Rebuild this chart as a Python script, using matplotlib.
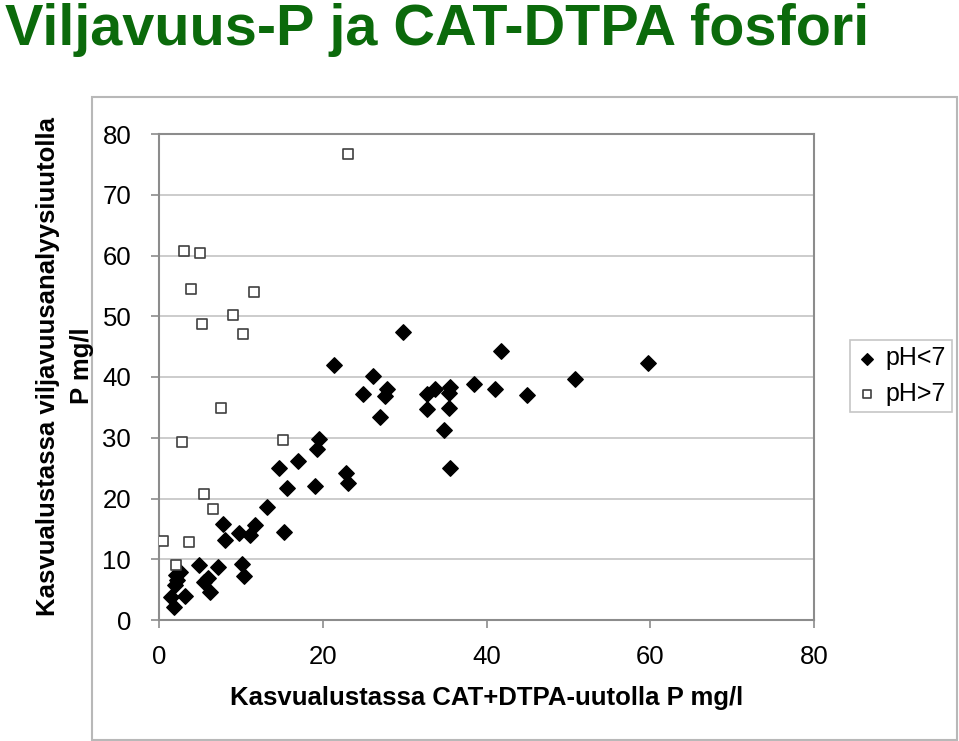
import matplotlib.pyplot as plt
from matplotlib.patches import Rectangle

# pH<7 (diamonds)
acid_x = [1.5, 1.8, 2.0, 2.1, 2.2, 2.6, 3.2, 4.9, 5.5, 6.0, 6.2, 7.2, 7.8, 8.1,
          9.8, 10.1, 10.4, 11.1, 11.7, 13.2, 14.7, 15.3, 15.6, 17.0, 19.1, 19.3,
          19.5, 21.4, 22.8, 23.1, 24.9, 26.1, 27.0, 27.6, 27.8, 29.8, 32.7, 32.7,
          33.7, 34.8, 35.4, 35.4, 35.6, 35.6, 38.5, 41.0, 41.8, 44.9, 50.8, 59.7]
acid_y = [3.8, 2.1, 5.8, 7.4, 6.6, 7.9, 4.0, 9.0, 6.3, 6.9, 4.6, 8.7, 15.8, 13.2,
          14.3, 9.2, 7.2, 14.0, 15.6, 18.6, 25.0, 14.5, 21.8, 26.2, 22.0, 28.1,
          29.8, 42.0, 24.2, 22.6, 37.2, 40.2, 33.4, 36.9, 38.0, 47.4, 37.2, 34.7,
          38.0, 31.3, 37.3, 34.9, 38.4, 25.0, 38.8, 38.0, 44.3, 37.0, 39.7, 42.3]

# pH>7 (squares)
alk_x = [0.5, 2.1, 2.8, 3.05, 3.7, 3.9, 5.0, 5.25, 5.5, 6.6, 7.6, 9.0, 10.3,
         11.6, 15.1, 23.1]
alk_y = [13.0, 9.05, 29.3, 60.7, 12.8, 54.5, 60.4, 48.7, 20.7, 18.3, 34.9,
         50.2, 47.1, 54.0, 29.6, 76.7]

plt.rcParams['font.family'] = ['Liberation Sans', 'DejaVu Sans']

fig = plt.figure(figsize=(9.59, 7.41), dpi=100)

# outer chart frame
fig.patches.append(Rectangle((92 / 959, 1 / 741), 865 / 959, 643 / 741,
                             transform=fig.transFigure, fill=False,
                             edgecolor='#b8b8b8', linewidth=1.5))

ax = fig.add_axes([159 / 959, 1 - 620 / 741, 655 / 959, 486 / 741])
ax.scatter(acid_x, acid_y, marker='D', s=62, color='black', zorder=3, label='pH<7')
ax.scatter(alk_x, alk_y, marker='s', s=55, facecolor='white', edgecolor='#404040',
           linewidth=1.2, zorder=3, label='pH>7')

ax.set_xlim(0, 80)
ax.set_ylim(0, 80)
ax.set_xticks(range(0, 81, 20))
ax.set_yticks(range(0, 81, 10))
ax.yaxis.grid(True, color='#c4c4c4', linewidth=1.2)
ax.set_axisbelow(True)
for s in ax.spines.values():
    s.set_color('#8c8c8c')
    s.set_linewidth(1.5)
ax.tick_params(axis='both', labelsize=18.5, colors='#8c8c8c', labelcolor='black',
               length=6, width=1.2)
ax.tick_params(axis='x', pad=12)
ax.tick_params(axis='y', pad=14)

ax.set_xlabel('Kasvualustassa CAT+DTPA-uutolla P mg/l', fontsize=18.5,
              fontweight='bold', labelpad=12)

fig.text(65 / 959, 375 / 741, 'Kasvualustassa viljavuusanalyysiuutolla\nP mg/l',
         rotation=90, ha='center', va='center', fontsize=18.5, fontweight='bold',
         multialignment='center', linespacing=1.5)

fig.text(5 / 959, 1 - 45 / 741, 'Viljavuus-P ja CAT-DTPA fosfori', ha='left',
         va='baseline', fontsize=41.5, fontweight='bold', color='#0b6a0b')

leg = fig.legend(loc='center', bbox_to_anchor=(901 / 959, 1 - 376 / 741),
                 fontsize=18, frameon=True, fancybox=False, handletextpad=0.3,
                 borderpad=0.25, labelspacing=0.45, handlelength=0.9,
                 markerscale=0.75, borderaxespad=0)
leg.get_frame().set_edgecolor('#b8b8b8')
leg.get_frame().set_linewidth(1.2)

fig.savefig('out.png', dpi=100)
